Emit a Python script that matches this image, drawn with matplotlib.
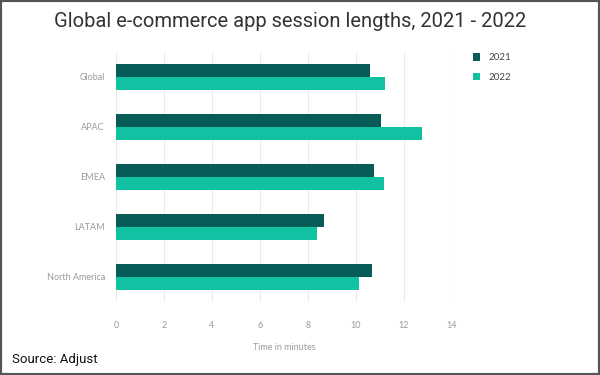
import numpy as np
import matplotlib
matplotlib.use("Agg")
import matplotlib.pyplot as plt
from matplotlib.patches import Rectangle

# Data
regions = ["Global", "APAC", "EMEA", "LATAM", "North America"]
values_2021 = [10.58, 11.04, 10.76, 8.67, 10.68]
values_2022 = [11.20, 12.73, 11.18, 8.39, 10.13]
series_names = ["2021", "2022"]
x_ticks = [0, 2, 4, 6, 8, 10, 12, 14]

COLOR_2021 = "#075c57"
COLOR_2022 = "#10c1a2"
LABEL_GREY = "#9a9a9a"

fig = plt.figure(figsize=(6, 3.75), dpi=100)
ax = fig.add_axes([116 / 600, 73 / 375, 336 / 600, 250 / 375])

y = np.arange(len(regions))
h = 0.26
ax.barh(y - h / 2, values_2021, height=h, color=COLOR_2021, label=series_names[0], zorder=3)
ax.barh(y + h / 2, values_2022, height=h, color=COLOR_2022, label=series_names[1], zorder=3)

ax.set_xlim(0, 14)
ax.set_ylim(len(regions) - 0.5, -0.5)
ax.set_xticks(x_ticks)
ax.set_xticklabels([str(t) for t in x_ticks], fontsize=6.5, color=LABEL_GREY, family="Lato")
ax.set_yticks(y)
ax.set_yticklabels(regions, fontsize=6.5, color=LABEL_GREY, family="Lato")
ax.tick_params(axis="both", length=0, pad=8)
ax.tick_params(axis="x", pad=14)
ax.grid(axis="x", color="#ececec", linewidth=0.8, zorder=0)
for s in ax.spines.values():
    s.set_visible(False)
ax.set_xlabel("Time in minutes", fontsize=6.5, color=LABEL_GREY, family="Lato", labelpad=9)

# title and source
fig.text(0.483, 0.942, "Global e-commerce app session lengths, 2021 - 2022",
         ha="center", va="center", fontsize=14.5, color="#333333", family="Roboto")
fig.text(0.02, 0.04, "Source: Adjust", ha="left", va="center",
         fontsize=9.5, color="#111111", family="Roboto")

# legend
ax.legend(loc="upper left", bbox_to_anchor=(1.035, 1.03), frameon=False,
          handlelength=0.8, handleheight=0.8, labelspacing=1.1,
          prop={"family": "Lato", "size": 7}, labelcolor="#444444")

# outer border
fig.patches.append(Rectangle((0, 0), 1, 1, transform=fig.transFigure, fill=False,
                             edgecolor="#555555", linewidth=3))

fig.savefig("out.png", dpi=100)
